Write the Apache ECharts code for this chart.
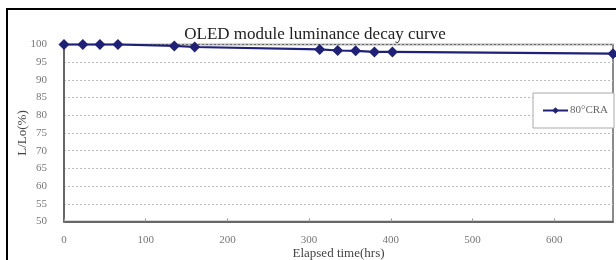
<!DOCTYPE html>
<html>
<head>
    <meta charset="utf-8">
    <title>OLED module luminance decay curve</title>
    <script src="https://cdn.jsdelivr.net/npm/echarts@6/dist/echarts.min.js"></script>
    <style>
        html, body { margin: 0; padding: 0; background: #fff; }
        #chart { width: 616px; height: 260px; }
    </style>
</head>
<body>
<div id="chart"></div>
<script type="text/javascript">
    // elapsed hours and relative luminance L/Lo (%)
    var hours = [0, 23, 44, 66, 135, 160, 313, 335, 357, 380, 402, 672];
    var luminance = [100, 100, 100, 100, 99.6, 99.3, 98.6, 98.3, 98.2, 97.9, 97.9, 97.4];
    var seriesName = '80°CRA';

    var points = [];
    for (var i = 0; i < hours.length; i++) {
        points.push([hours[i], luminance[i]]);
    }

    var serif = '"Liberation Serif", "DejaVu Serif", serif';
    var myChart = echarts.init(document.getElementById('chart'));
    myChart.setOption({
        animation: false,
        backgroundColor: '#fff',
        title: {
            text: 'OLED module luminance decay curve',
            left: 315,
            textAlign: 'center',
            top: 26,
            padding: 0,
            textStyle: { fontFamily: serif, fontSize: 17, fontWeight: 'normal', color: '#222' }
        },
        graphic: [{
            type: 'rect',
            shape: { x: 7, y: 9, width: 620, height: 262 },
            style: { fill: 'none', stroke: '#000', lineWidth: 2 },
            silent: true
        }],
        legend: {
            data: [seriesName],
            left: 533,
            top: 93,
            padding: [12, 6, 12, 9],
            itemWidth: 25,
            itemHeight: 8,
            itemGap: 0,
            borderColor: '#aaa',
            borderWidth: 1,
            backgroundColor: '#fff',
            textStyle: { fontFamily: serif, fontSize: 11, color: '#666', padding: [0, 0, 0, -3] }
        },
        grid: {
            left: 64,
            right: 3,
            top: 44.5,
            bottom: 38.5,
            outerBoundsMode: 'none',
            show: true,
            borderColor: '#666',
            borderWidth: 1.5
        },
        xAxis: {
            type: 'value',
            min: 0,
            max: 672,
            interval: 100,
            name: 'Elapsed time(hrs)',
            nameLocation: 'middle',
            nameGap: 26,
            nameMoveOverlap: false,
            nameTextStyle: { fontFamily: serif, fontSize: 13, color: '#444' },
            axisLine: { lineStyle: { color: '#666', width: 2 } },
            axisTick: { inside: true, length: 3, lineStyle: { color: '#999' } },
            axisLabel: { fontFamily: serif, fontSize: 11, color: '#777', margin: 13, showMaxLabel: false },
            splitLine: { show: false }
        },
        yAxis: {
            type: 'value',
            min: 50,
            max: 100,
            interval: 5,
            name: 'L/Lo(%)',
            nameLocation: 'middle',
            nameGap: 35,
            nameMoveOverlap: false,
            nameTextStyle: { fontFamily: serif, fontSize: 13, color: '#444' },
            axisLine: { show: true, lineStyle: { color: '#666', width: 2 } },
            axisTick: { show: false },
            axisLabel: { fontFamily: serif, fontSize: 11, color: '#777', margin: 17 },
            splitLine: { lineStyle: { color: '#bbb', type: [2, 2], width: 1 } }
        },
        series: [{
            name: seriesName,
            type: 'line',
            data: points,
            symbol: 'diamond',
            symbolSize: 11,
            clip: false,
            color: '#1f2178',
            lineStyle: { width: 2.2 },
            itemStyle: { color: '#1f2178' }
        }]
    });
</script>
</body>
</html>
